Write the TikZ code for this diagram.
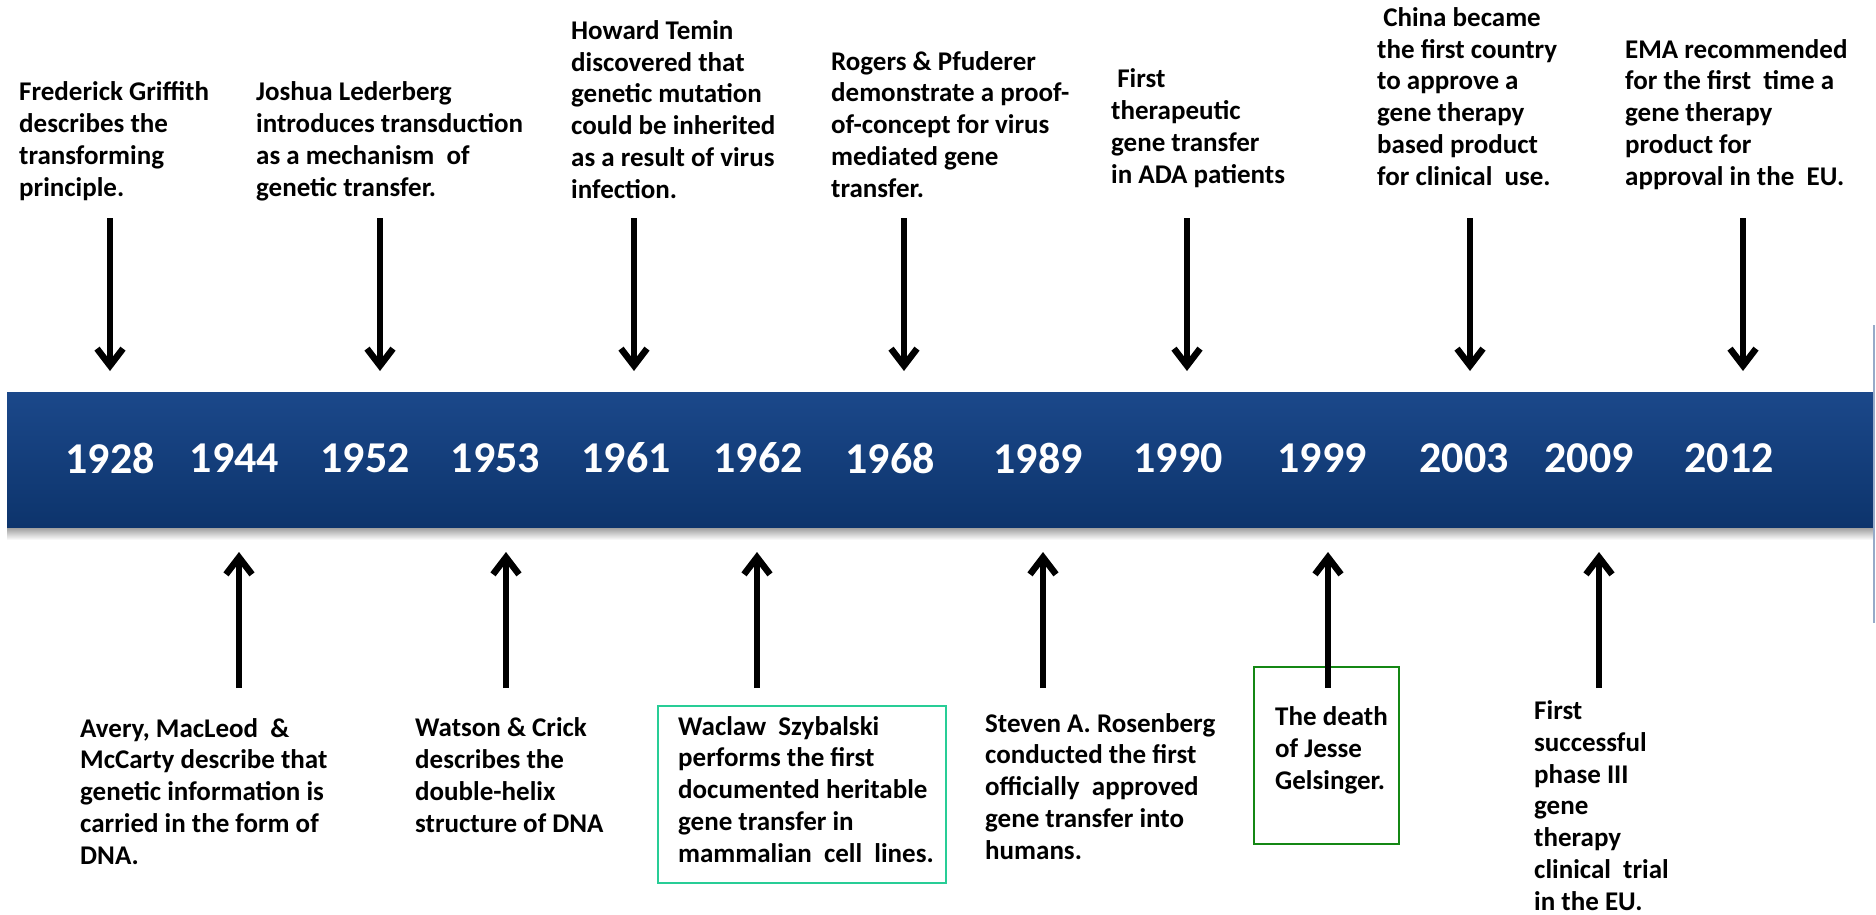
\documentclass[tikz,border=0pt]{standalone}
\usepackage{fontspec}
\setmainfont{Carlito}
\usetikzlibrary{arrows.meta}
\definecolor{bandtop}{RGB}{27,72,138}
\definecolor{bandbot}{RGB}{13,52,108}
\definecolor{boxteal}{RGB}{40,205,150}
\definecolor{boxgreen}{RGB}{20,135,20}
\definecolor{edgeline}{RGB}{150,170,200}
\tikzset{
  txt/.style={anchor=base west, align=left, inner sep=0pt, font=\fontsize{27}{31.7}\selectfont\bfseries},
  yr/.style={text=white, inner sep=0pt, font=\fontsize{44}{50}\selectfont\bfseries},
  arr/.style={line width=6.5pt, -{Straight Barb[length=17pt,width=26pt]}},
  evbox/.style={draw, line width=2.2pt, inner sep=0pt, fill=white}
}
\begin{document}
\begin{tikzpicture}[x=1pt,y=-1pt]
\useasboundingbox[fill=white] (0,0) rectangle (1876,915);
% band
\shade[top color=black!40, bottom color=white] (7,527) rectangle (1874,540);
\shade[top color=bandtop, bottom color=bandbot] (7,392) rectangle (1874,527);
\draw[edgeline, line width=1.5pt] (1874,325) -- (1874,623);
% years
\node[yr] (y1928) at (110,458) {1928};
\node[yr] (y1944) at (234.5,458) {1944};
\node[yr] (y1952) at (365,458) {1952};
\node[yr] (y1953) at (495.5,458) {1953};
\node[yr] (y1961) at (626,458) {1961};
\node[yr] (y1962) at (758,458) {1962};
\node[yr] (y1968) at (890,458) {1968};
\node[yr] (y1989) at (1038,458) {1989};
\node[yr] (y1990) at (1178,458) {1990};
\node[yr] (y1999) at (1322,458) {1999};
\node[yr] (y2003) at (1464,458) {2003};
\node[yr] (y2009) at (1589,458) {2009};
\node[yr] (y2012) at (1729,458) {2012};
% boxes
\node[evbox, draw=boxteal, minimum width=288pt, minimum height=177pt] (wbox) at (802,794.5) {};
\node[evbox, draw=boxgreen, minimum width=145pt, minimum height=177pt] (jbox) at (1326.5,755.5) {};
% top arrows
\foreach \n/\x in {a/110,b/380,c/634,d/904,e/1187,f/1470,g/1743}{
  \coordinate (t\n s) at (\x,218);
  \coordinate (t\n e) at (\x,371);
  \draw[arr] (t\n s) -- (t\n e);
}
% bottom arrows
\foreach \n/\x in {a/239,b/506,c/757,d/1043,e/1328,f/1599}{
  \coordinate (b\n s) at (\x,688);
  \coordinate (b\n e) at (\x,552);
  \draw[arr] (b\n s) -- (b\n e);
}
% top texts (anchored at the baseline of the last line)
\node[txt] (t1) at (19,196) {Frederick Griffith\\describes the\\transforming\\principle.};
\node[txt] (t2) at (256,196) {Joshua Lederberg\\introduces transduction\\as a mechanism\ \ of\\genetic transfer.};
\node[txt] (t3) at (571,198) {Howard Temin\\discovered that\\genetic mutation\\could be inherited\\as a result of virus\\infection.};
\node[txt] (t4) at (831,197) {Rogers \& Pfuderer\\demonstrate a proof-\\of-concept for virus\\mediated gene\\transfer.};
\node[txt] (t5) at (1111,183) {\ First\\therapeutic\\gene transfer\\in ADA patients};
\node[txt] (t6) at (1377,185) {\ China became\\the first country\\to approve a\\gene therapy\\based product\\for clinical\ \ use.};
\node[txt] (t7) at (1625,185) {EMA recommended\\for the first\ \ time a\\gene therapy\\product for\\approval in the\ \ EU.};
% bottom texts
\node[txt] (b1) at (80,864) {Avery, MacLeod\ \ \&\\McCarty describe that\\genetic information is\\carried in the form of\\DNA.};
\node[txt] (b2) at (415,832) {Watson \& Crick\\describes the\\double-helix\\structure of DNA};
\node[txt] (b3) at (678,862) {Waclaw\ \ Szybalski\\performs the first\\documented heritable\\gene transfer in\\mammalian\ \ cell\ \ lines.};
\node[txt] (b4) at (985,859) {Steven A. Rosenberg\\conducted the first\\officially\ \ approved\\gene transfer into\\humans.};
\node[txt] (b5) at (1275,789) {The death\\of Jesse\\Gelsinger.};
\node[txt] (b6) at (1534,910) {First\\successful\\phase III\\gene\\therapy\\clinical\ \ trial\\in the EU.};
\end{tikzpicture}
\end{document}
